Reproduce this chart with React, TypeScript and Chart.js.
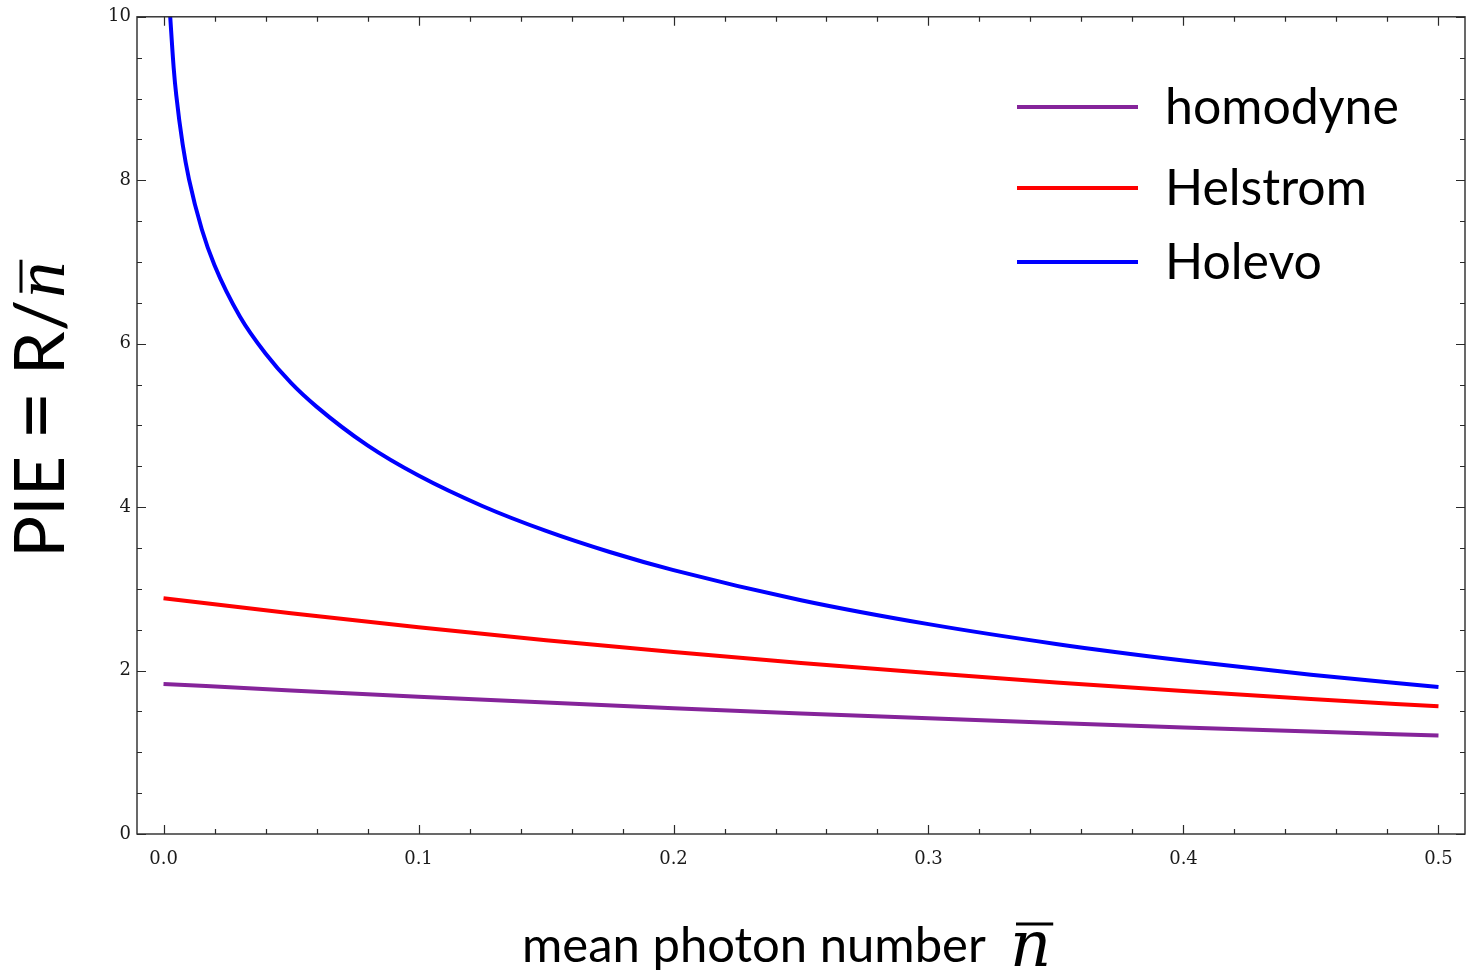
import React, { useEffect, useRef } from "react";
import { Chart, registerables } from "chart.js";

Chart.register(...registerables);

// ---- data ----
const SERIES_NAMES = ["homodyne", "Helstrom", "Holevo"];
const SERIES_COLORS = ["#85249a", "#ff0000", "#0000ff"];

const N_GRID = [0, 0.05, 0.1, 0.15, 0.2, 0.25, 0.3, 0.35, 0.4, 0.45, 0.5];
const HOMODYNE_PIE = [1.837, 1.756, 1.679, 1.608, 1.54, 1.476, 1.415, 1.358, 1.304, 1.253, 1.205];
const HELSTROM_PIE = [2.885, 2.7, 2.53, 2.372, 2.227, 2.093, 1.969, 1.855, 1.749, 1.652, 1.562];

const HOLEVO_N = [
  0.0025, 0.004, 0.005, 0.0075, 0.01, 0.015, 0.02, 0.03, 0.04, 0.05, 0.06, 0.08, 0.1,
  0.125, 0.15, 0.175, 0.2, 0.25, 0.3, 0.35, 0.4, 0.45, 0.5,
];
const HOLEVO_PIE = [
  10.06, 9.37, 9.04, 8.44, 8.01, 7.4, 6.96, 6.33, 5.88, 5.52, 5.23, 4.755, 4.386,
  4.014, 3.709, 3.451, 3.229, 2.861, 2.568, 2.326, 2.123, 1.949, 1.8,
];

const X_TICKS = [0, 0.1, 0.2, 0.3, 0.4, 0.5];
const X_TICK_LABELS = ["0.0", "0.1", "0.2", "0.3", "0.4", "0.5"];
const Y_TICKS = [0, 2, 4, 6, 8, 10];
const Y_TICK_LABELS = ["0", "2", "4", "6", "8", "10"];
const X_MINOR_STEP = 0.02;
const Y_MINOR_STEP = 0.5;

const X_TITLE = "mean photon number";
const Y_TITLE_PARTS = ["PIE", "=", "R/"];
const NBAR = "n";

const X_MIN = -0.0104;
const X_MAX = 0.5104;
const Y_MIN = 0;
const Y_MAX = 10;

const SANS = "Lato, 'Open Sans', sans-serif";
const MATH_A = '"DejaVu Serif", serif';
const MATH_B = '"Times New Roman", "Liberation Serif", serif';

function frameAndDecor() {
  return {
    id: "frameAndDecor",
    afterDraw(chart: any) {
      const ctx = chart.ctx as CanvasRenderingContext2D;
      const { left, right, top, bottom } = chart.chartArea;
      const xs = chart.scales.x;
      const ys = chart.scales.y;
      ctx.save();
      // frame
      ctx.strokeStyle = "#2a2a2a";
      ctx.lineWidth = 1.4;
      ctx.strokeRect(left, top, right - left, bottom - top);
      // ticks on four sides, pointing inward
      ctx.lineWidth = 1.2;
      ctx.beginPath();
      const nx = Math.round(X_MAX / X_MINOR_STEP);
      for (let i = 0; i <= nx; i++) {
        const v = i * X_MINOR_STEP;
        if (v > X_MAX) break;
        const major = X_TICKS.some((t) => Math.abs(t - v) < 1e-9);
        const len = major ? 9 : 5;
        const px = Math.round(xs.getPixelForValue(v)) + 0.5;
        ctx.moveTo(px, bottom);
        ctx.lineTo(px, bottom - len);
        ctx.moveTo(px, top);
        ctx.lineTo(px, top + len);
      }
      const ny = Math.round((Y_MAX - Y_MIN) / Y_MINOR_STEP);
      for (let i = 0; i <= ny; i++) {
        const v = Y_MIN + i * Y_MINOR_STEP;
        const major = Y_TICKS.some((t) => Math.abs(t - v) < 1e-9);
        const len = major ? 9 : 5;
        const py = Math.round(ys.getPixelForValue(v)) + 0.5;
        ctx.moveTo(left, py);
        ctx.lineTo(left + len, py);
        ctx.moveTo(right, py);
        ctx.lineTo(right - len, py);
      }
      ctx.stroke();

      // x title
      ctx.fillStyle = "#000";
      ctx.strokeStyle = "#000";
      ctx.textBaseline = "alphabetic";
      ctx.textAlign = "left";
      ctx.font = `49px ${SANS}`;
      const xTitleX = 522;
      const xTitleY = 962;
      ctx.fillText(X_TITLE, xTitleX, xTitleY);
      const w1 = ctx.measureText(X_TITLE).width;
      ctx.font = `italic 64px ${MATH_A}`;
      const nx0 = Math.max(xTitleX + w1 + 18, 1010);
      ctx.fillText(NBAR, nx0, 966);
      const nw = ctx.measureText(NBAR).width;
      ctx.lineWidth = 3;
      ctx.beginPath();
      ctx.moveTo(nx0 + 6, 924);
      ctx.lineTo(nx0 + nw + 2, 924);
      ctx.stroke();

      // y title (rotated)
      ctx.save();
      ctx.translate(64, 558);
      ctx.rotate(-Math.PI / 2);
      ctx.font = `70px ${SANS}`;
      let u = 0;
      const spaceW = 16;
      Y_TITLE_PARTS.forEach((part, i) => {
        if (part === "=") {
          // wide equals sign, drawn as text with a larger size
          ctx.font = `84px ${SANS}`;
          ctx.fillText(part, u, 0);
          u += ctx.measureText(part).width + spaceW;
          ctx.font = `70px ${SANS}`;
        } else {
          ctx.fillText(part, u, 0);
          u += ctx.measureText(part).width + (i < Y_TITLE_PARTS.length - 1 ? spaceW : 0);
        }
      });
      ctx.font = `italic 72px ${MATH_B}`;
      const ny0 = u + 2;
      ctx.fillText(NBAR, ny0, 0);
      const nyw = ctx.measureText(NBAR).width;
      ctx.lineWidth = 3;
      ctx.beginPath();
      ctx.moveTo(ny0 + 5, -43);
      ctx.lineTo(ny0 + nyw + 2, -43);
      ctx.stroke();
      ctx.restore();

      // legend
      const rows = [107, 188, 262];
      chart.data.datasets.forEach((ds: any, i: number) => {
        const y = rows[i];
        ctx.strokeStyle = ds.borderColor;
        ctx.lineWidth = 4;
        ctx.beginPath();
        ctx.moveTo(1017, y);
        ctx.lineTo(1138, y);
        ctx.stroke();
        ctx.fillStyle = "#000";
        ctx.font = `50px ${SANS}`;
        ctx.fillText(ds.label, 1165, y + 17);
      });
      ctx.restore();
    },
  };
}

export default function App() {
  const ref = useRef<HTMLCanvasElement | null>(null);

  useEffect(() => {
    if (!ref.current) return;
    const datasets = [
      {
        label: SERIES_NAMES[0],
        data: N_GRID.map((x, i) => ({ x, y: HOMODYNE_PIE[i] })),
        borderColor: SERIES_COLORS[0],
      },
      {
        label: SERIES_NAMES[1],
        data: N_GRID.map((x, i) => ({ x, y: HELSTROM_PIE[i] })),
        borderColor: SERIES_COLORS[1],
      },
      {
        label: SERIES_NAMES[2],
        data: HOLEVO_N.map((x, i) => ({ x, y: HOLEVO_PIE[i] })),
        borderColor: SERIES_COLORS[2],
      },
    ].map((d) => ({
      ...d,
      borderWidth: 4,
      pointRadius: 0,
      fill: false,
      cubicInterpolationMode: "monotone" as const,
      clip: 0,
    }));

    const chart = new Chart(ref.current, {
      type: "line",
      data: { datasets },
      options: {
        animation: false,
        responsive: false,
        maintainAspectRatio: false,
        layout: { padding: { left: 0, top: 14, right: 5, bottom: 0 } },
        plugins: { legend: { display: false }, tooltip: { enabled: false } },
        scales: {
          x: {
            type: "linear",
            min: X_MIN,
            max: X_MAX,
            grid: { display: false, drawTicks: false },
            border: { display: false },
            afterBuildTicks: (s: any) => {
              s.ticks = X_TICKS.map((v) => ({ value: v }));
            },
            afterFit: (s: any) => {
              s.height = 142;
            },
            ticks: {
              padding: 15,
              color: "#1a1a1a",
              font: { family: "'DejaVu Serif', serif", size: 18 },
              maxRotation: 0,
              autoSkip: false,
              callback: (_v: any, i: number) => X_TICK_LABELS[i],
            },
          },
          y: {
            type: "linear",
            min: Y_MIN,
            max: Y_MAX,
            grid: { display: false, drawTicks: false },
            border: { display: false },
            afterBuildTicks: (s: any) => {
              s.ticks = Y_TICKS.map((v) => ({ value: v }));
            },
            afterFit: (s: any) => {
              s.width = 137;
            },
            ticks: {
              padding: 6,
              color: "#1a1a1a",
              font: { family: "'DejaVu Serif', serif", size: 18 },
              autoSkip: false,
              callback: (_v: any, i: number) => Y_TICK_LABELS[i],
            },
          },
        },
      },
      plugins: [frameAndDecor()],
    });
    return () => chart.destroy();
  }, []);

  return (
    <div style={{ position: "fixed", left: 0, top: 0, width: 1470, height: 976, background: "#fff" }}>
      <canvas ref={ref} width={1470} height={976} style={{ display: "block" }} />
    </div>
  );
}
